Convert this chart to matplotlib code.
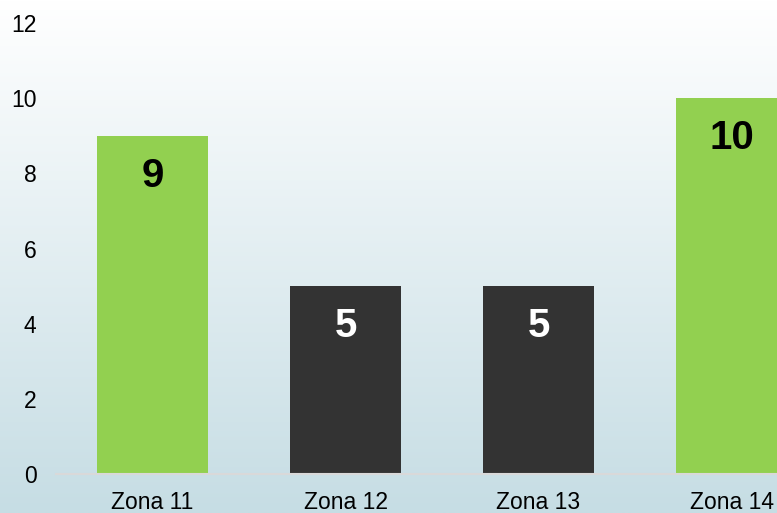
import matplotlib
matplotlib.use("Agg")
import matplotlib.pyplot as plt
import numpy as np
from matplotlib.colors import LinearSegmentedColormap

zones = ["Zona 11", "Zona 12", "Zona 13", "Zona 14"]
values = [9, 5, 5, 10]
bar_colors = ["#92d050", "#333333", "#333333", "#92d050"]
label_colors = ["black", "white", "white", "black"]
yticks = [0, 2, 4, 6, 8, 10, 12]

plt.rcParams['font.family'] = ['Liberation Sans', 'DejaVu Sans']

fig = plt.figure(figsize=(7.77, 5.13), dpi=100)

# background gradient over the whole figure
bg = fig.add_axes([0, 0, 1, 1], zorder=-1)
grad = np.linspace(0, 1, 256).reshape(-1, 1)
cmap = LinearSegmentedColormap.from_list("bg", ["#ffffff", "#c6dde4"])
bg.imshow(grad, aspect="auto", cmap=cmap, extent=[0, 1, 0, 1], origin="upper")
bg.axis("off")

left = 56 / 777
bottom = (513 - 474) / 513
top = (513 - 23) / 513
ax = fig.add_axes([left, bottom, 1 - left, top - bottom])
ax.patch.set_alpha(0)

x = np.arange(len(zones))
bars = ax.bar(x, values, width=0.57, color=bar_colors, zorder=2)

for xi, v, c in zip(x, values, label_colors):
    ax.annotate(str(v), (xi, v), xytext=(0, -40), textcoords="offset pixels",
                ha="center", va="center", fontsize=29, fontweight="bold",
                color=c, zorder=3)

ax.set_ylim(0, 12)
ax.set_xlim(-0.5, 3.5 - (828 - 777) / 193)
ax.set_yticks(yticks)
ax.set_xticks(x)
ax.set_xticklabels(zones)
ax.tick_params(axis="both", length=0, labelsize=16.5)
ax.tick_params(axis="y", pad=14)
ax.tick_params(axis="x", pad=12)

for s in ["top", "right", "left"]:
    ax.spines[s].set_visible(False)
ax.spines["bottom"].set_color("#d9d9d9")
ax.spines["bottom"].set_linewidth(1.5)

fig.savefig("out.png", dpi=100)
